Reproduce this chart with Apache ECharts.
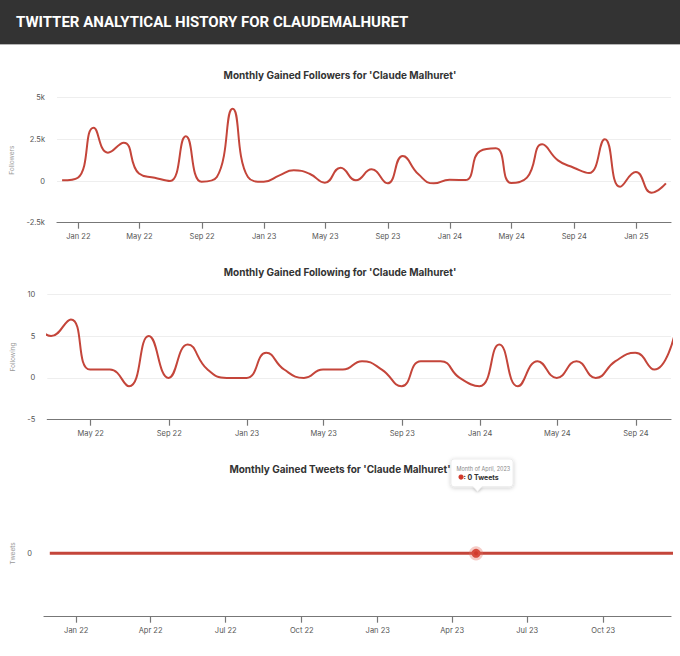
<!DOCTYPE html>
<html>
<head>
<meta charset="utf-8">
<script src="https://cdn.jsdelivr.net/npm/echarts@6/dist/echarts.min.js"></script>
<style>
html,body{margin:0;padding:0;background:#fff;}
#c{width:680px;height:656px;}
</style>
</head>
<body>
<div id="c"></div>
<script>
// ---- data ----
const followerMonths = ['2021-11','2021-12',
 '2022-01','2022-02','2022-03','2022-04','2022-05','2022-06','2022-07','2022-08','2022-09','2022-10','2022-11','2022-12',
 '2023-01','2023-02','2023-03','2023-04','2023-05','2023-06','2023-07','2023-08','2023-09','2023-10','2023-11','2023-12',
 '2024-01','2024-02','2024-03','2024-04','2024-05','2024-06','2024-07','2024-08','2024-09','2024-10','2024-11','2024-12',
 '2025-01','2025-02'];
const followerValues = [40,200,
 3200,1700,2300,450,200,0,2680,-40,240,4340,240,-40,
 340,640,440,-100,800,40,700,-140,1500,400,-140,80,
 60,1800,1960,-120,200,2200,1240,800,480,2500,-340,540,
 -700,-140];

const followingMonths = [
 '2022-01','2022-02','2022-03','2022-04','2022-05','2022-06','2022-07','2022-08','2022-09','2022-10','2022-11','2022-12',
 '2023-01','2023-02','2023-03','2023-04','2023-05','2023-06','2023-07','2023-08','2023-09','2023-10','2023-11','2023-12',
 '2024-01','2024-02','2024-03','2024-04','2024-05','2024-06','2024-07','2024-08','2024-09','2024-10'];
const followingValues = [
 7,5,7,1,1,-1,5,0,4,1,0,0,
 3,1,0,1,1,2,1,-1,2,2,0,-1,
 4,-1,2,0,2,0,2,3,1,5];

const tweetMonths = ['2021-11','2021-12',
 '2022-01','2022-02','2022-03','2022-04','2022-05','2022-06','2022-07','2022-08','2022-09','2022-10','2022-11','2022-12',
 '2023-01','2023-02','2023-03','2023-04','2023-05','2023-06','2023-07','2023-08','2023-09','2023-10','2023-11','2023-12'];
const tweetValues = [0,0,
 0,0,0,0,0,0,0,0,0,0,0,0,
 0,0,0,0,0,0,0,0,0,0,0,0];
const highlightedTweetMonth = '2023-04';

const followerTicks = ['2022-01','2022-05','2022-09','2023-01','2023-05','2023-09','2024-01','2024-05','2024-09','2025-01'];
const followingTicks = ['2022-05','2022-09','2023-01','2023-05','2023-09','2024-01','2024-05','2024-09'];
const tweetTicks = ['2022-01','2022-04','2022-07','2022-10','2023-01','2023-04','2023-07','2023-10'];

const MONTH_ABBR = ['Jan','Feb','Mar','Apr','May','Jun','Jul','Aug','Sep','Oct','Nov','Dec'];
const MONTH_FULL = ['January','February','March','April','May','June','July','August','September','October','November','December'];

function ymParts(ym){ const p = ym.split('-'); return [Number(p[0]), Number(p[1])]; }
function monthEnd(ym){ const [y,m] = ymParts(ym); return new Date(y, m, 0).getTime(); }
function monthStart(ym){ const [y,m] = ymParts(ym); return new Date(y, m-1, 1).getTime(); }
function tickLabel(v){ const d = new Date(v); return MONTH_ABBR[d.getMonth()] + ' ' + String(d.getFullYear()).slice(2); }
function kLabel(v){ if (v === 0) return '0'; return (v/1000) + 'k'; }

const LINE = '#c4453a';
const FONT = 'Inter, "Noto Sans", sans-serif';
const LABEL_COLOR = '#555';

function xAxisFor(idx, min, max, ticks){
  const vals = ticks.map(monthStart);
  return {
    type: 'value', gridIndex: idx, min: min, max: max, scale: true,
    axisLine: {show: true, onZero: false, lineStyle: {color: '#777', width: 1.2}},
    axisTick: {show: true, length: 6, lineStyle: {color: '#777', width: 1.2}, customValues: vals},
    axisLabel: {show: true, customValues: vals, formatter: tickLabel, color: LABEL_COLOR, fontSize: 7.5, fontFamily: FONT, margin: 10},
    splitLine: {show: false}
  };
}

const chart = echarts.init(document.getElementById('c'), null, {renderer: 'svg'});

function headerGraphics(){
  return [
    {type: 'rect', shape: {x: 0, y: 0, width: 680, height: 44}, style: {fill: '#333333'}, silent: true},
    {type: 'rect', shape: {x: 0, y: 44, width: 680, height: 1}, style: {fill: '#b5b5b5'}, silent: true},
    {type: 'text', x: 16, y: 22, silent: true,
     style: {text: 'TWITTER ANALYTICAL HISTORY FOR CLAUDEMALHURET', fill: '#ffffff',
             font: 'bold 15px Roboto, "Noto Sans", sans-serif', verticalAlign: 'middle', align: 'left'}}
  ];
}

const TITLE_STYLE = {fontSize: 10, fontWeight: 'bold', color: '#333', fontFamily: FONT};

const option = {
  animation: false,
  backgroundColor: '#fff',
  title: [
    {text: "Monthly Gained Followers for 'Claude Malhuret'", left: 'center', top: 65, textStyle: TITLE_STYLE},
    {text: "Monthly Gained Following for 'Claude Malhuret'", left: 'center', top: 262, textStyle: TITLE_STYLE},
    {text: "Monthly Gained Tweets for 'Claude Malhuret'", left: 'center', top: 459, textStyle: TITLE_STYLE}
  ],
  grid: [
    {left: 57, right: 9, top: 97.7, height: 125},
    {left: 47.3, right: 9, top: 294.3, height: 125.4},
    {left: 44, right: 9, top: 490, height: 126.7}
  ],
  xAxis: [
    xAxisFor(0, new Date(2021,10,20).getTime(), new Date(2025,2,10).getTime(), followerTicks),
    xAxisFor(1, new Date(2022,1,22).getTime(), new Date(2024,9,26).getTime(), followingTicks),
    xAxisFor(2, new Date(2021,10,23).getTime(), new Date(2023,11,22).getTime(), tweetTicks)
  ],
  yAxis: [
    {type: 'value', gridIndex: 0, min: -2500, max: 5000, interval: 2500,
     name: 'Followers', nameLocation: 'middle', nameGap: 33, nameRotate: 90,
     nameTextStyle: {fontSize: 6.5, color: '#999', fontFamily: FONT},
     axisLine: {show: false}, axisTick: {show: false},
     axisLabel: {formatter: kLabel, color: LABEL_COLOR, fontSize: 7.5, fontFamily: FONT, margin: 12},
     splitLine: {show: true, lineStyle: {color: '#eee', width: 1}}},
    {type: 'value', gridIndex: 1, min: -5, max: 10, interval: 5,
     name: 'Following', nameLocation: 'middle', nameGap: 23, nameRotate: 90,
     nameTextStyle: {fontSize: 6.5, color: '#999', fontFamily: FONT},
     axisLine: {show: false}, axisTick: {show: false},
     axisLabel: {color: LABEL_COLOR, fontSize: 7.5, fontFamily: FONT, margin: 12},
     splitLine: {show: true, lineStyle: {color: '#eee', width: 1}}},
    {type: 'value', gridIndex: 2, min: -1, max: 1, interval: 1,
     name: 'Tweets', nameLocation: 'middle', nameGap: 20, nameRotate: 90,
     nameTextStyle: {fontSize: 6.5, color: '#999', fontFamily: FONT},
     axisLine: {show: false}, axisTick: {show: false},
     axisLabel: {color: LABEL_COLOR, fontSize: 7.5, fontFamily: FONT, margin: 12, customValues: [0]},
     splitLine: {show: false}}
  ],
  series: [
    {type: 'line', xAxisIndex: 0, yAxisIndex: 0, smooth: true, symbol: 'none', clip: true,
     lineStyle: {color: LINE, width: 2}, itemStyle: {color: LINE},
     data: followerMonths.map((m, i) => [monthEnd(m), followerValues[i]])},
    {type: 'line', xAxisIndex: 1, yAxisIndex: 1, smooth: true, symbol: 'none', clip: true,
     lineStyle: {color: LINE, width: 2}, itemStyle: {color: LINE},
     data: followingMonths.map((m, i) => [monthEnd(m), followingValues[i]])},
    {type: 'line', xAxisIndex: 2, yAxisIndex: 2, smooth: false, symbol: 'none', clip: true,
     lineStyle: {color: LINE, width: 3},
     itemStyle: {color: LINE},
     data: tweetMonths.map((m, i) => m === highlightedTweetMonth
        ? {value: [monthEnd(m), tweetValues[i]], symbol: 'circle', symbolSize: 9,
           itemStyle: {color: '#d23a2c', borderColor: 'rgba(226,110,95,0.35)', borderWidth: 5}}
        : [monthEnd(m), tweetValues[i]])}
  ],
  graphic: headerGraphics()
};
chart.setOption(option);

// tooltip for highlighted month, anchored at the data point
const hiIdx = tweetMonths.indexOf(highlightedTweetMonth);
const p = chart.convertToPixel({xAxisIndex: 2, yAxisIndex: 2}, [monthEnd(highlightedTweetMonth), tweetValues[hiIdx]]);
const [hy, hm] = ymParts(highlightedTweetMonth);
if (p && isFinite(p[0]) && isFinite(p[1])) {
  chart.setOption({
    graphic: headerGraphics().concat([
      {type: 'group', x: p[0], y: p[1], silent: true, children: [
        {type: 'polygon', shape: {points: [[-3.5,-66.8],[6.5,-66.8],[1.5,-62]]},
         style: {fill: '#fff', shadowBlur: 3, shadowColor: 'rgba(0,0,0,0.25)', shadowOffsetY: 1}},
        {type: 'rect', shape: {x: -25, y: -94.3, width: 62, height: 27.7, r: 3},
         style: {fill: '#fff', stroke: '#e2e2e2', lineWidth: 0.6, shadowBlur: 4, shadowColor: 'rgba(0,0,0,0.22)', shadowOffsetY: 1}},
        {type: 'polygon', shape: {points: [[-3.2,-67.3],[6.2,-67.3],[1.5,-62.6]]}, style: {fill: '#fff'}},
        {type: 'text', x: -19.5, y: -84.5,
         style: {text: 'Month of ' + MONTH_FULL[hm-1] + ', ' + hy, fill: '#888', fontSize: 5.5, fontFamily: FONT, verticalAlign: 'middle'}},
        {type: 'circle', shape: {cx: -15, cy: -76.3, r: 2.6}, style: {fill: '#d23a2c'}},
        {type: 'text', x: -12.5, y: -76.3,
         style: {text: ': ' + tweetValues[hiIdx] + ' Tweets', fill: '#333', fontSize: 7, fontWeight: 'bold', fontFamily: FONT, verticalAlign: 'middle'}}
      ]}
    ])
  });
}
</script>
</body>
</html>
